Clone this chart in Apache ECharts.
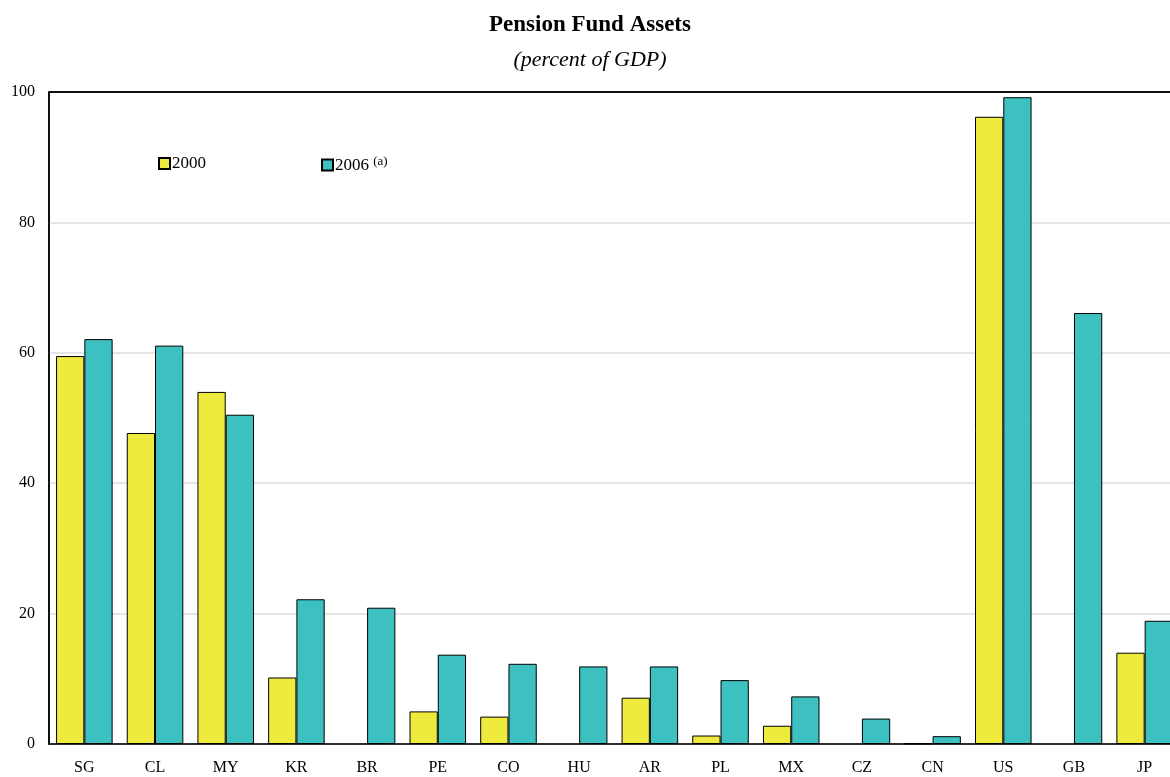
<!DOCTYPE html>
<html>
<head>
<meta charset="utf-8">
<script src="https://cdn.jsdelivr.net/npm/echarts@6/dist/echarts.min.js"></script>
<style>
  html, body { margin: 0; padding: 0; background: #fff; overflow: hidden; }
  /* The plot runs a little past the right edge of the window */
  #chart { width: 1181px; height: 777px; }
</style>
</head>
<body>
<div id="chart"></div>
<script>
// Pension fund assets by country, percent of GDP
const countries = ['SG', 'CL', 'MY', 'KR', 'BR', 'PE', 'CO', 'HU', 'AR', 'PL', 'MX', 'CZ', 'CN', 'US', 'GB', 'JP'];
const assets2000 = [59.5, 47.7, 54.0, 10.2, null, 5.0, 4.2, null, 7.1, 1.3, 2.8, null, 0.1, 96.2, null, 14.0];
const assets2006 = [62.1, 61.1, 50.5, 22.2, 20.9, 13.7, 12.3, 11.9, 11.9, 9.8, 7.3, 3.9, 1.2, 99.2, 66.1, 18.9];
const yTicks = [0, 20, 40, 60, 80, 100];

const serif = '"Liberation Serif", "Times New Roman", Times, serif';
const chart = echarts.init(document.getElementById('chart'), null, { renderer: 'canvas' });

// Light grid lines inside, solid frame line along the top
const gridColors = yTicks.map((v, i) => (i === yTicks.length - 1 ? '#000' : '#dcdcdc'));

chart.setOption({
  backgroundColor: '#fff',
  animation: false,
  title: [
    {
      text: 'Pension Fund Assets',
      left: 585, top: 9, textAlign: 'center',
      textStyle: { fontFamily: serif, fontWeight: 'bold', fontSize: 23, color: '#000' }
    },
    {
      text: '(percent of GDP)',
      left: 585, top: 44, textAlign: 'center',
      textStyle: { fontFamily: serif, fontStyle: 'italic', fontWeight: 'normal', fontSize: 22, color: '#000' }
    }
  ],
  legend: [
    {
      data: ['2000'], left: 153, top: 150,
      icon: 'rect', itemWidth: 11, itemHeight: 11, itemGap: 0,
      textStyle: { fontFamily: serif, fontSize: 17, color: '#000', padding: [2, 0, 0, -3] }
    },
    {
      data: ['2006'], left: 316, top: 150,
      icon: 'rect', itemWidth: 11, itemHeight: 11, itemGap: 0,
      formatter: name => name + ' {sup|(a)}',
      textStyle: {
        fontFamily: serif, fontSize: 17, color: '#000', padding: [2, 0, 0, -3],
        rich: { sup: { fontFamily: serif, fontSize: 13, color: '#000', padding: [0, 0, 9, 0] } }
      }
    }
  ],
  grid: {
    left: 49, right: 1, top: 92, bottom: 33,
    show: true, borderColor: '#000', borderWidth: 1.5, backgroundColor: 'transparent'
  },
  xAxis: {
    type: 'category',
    data: countries,
    axisLine: { show: true, lineStyle: { color: '#000', width: 1.5 } },
    axisTick: { show: false },
    axisLabel: { fontFamily: serif, fontSize: 16, color: '#000', margin: 16 }
  },
  yAxis: {
    type: 'value',
    min: yTicks[0], max: yTicks[yTicks.length - 1], interval: 20,
    axisLine: { show: true, lineStyle: { color: '#000', width: 1.5 } },
    axisTick: { show: false },
    axisLabel: { fontFamily: serif, fontSize: 16, color: '#000', margin: 14 },
    splitLine: { show: true, lineStyle: { color: gridColors, width: 1.5 } }
  },
  series: [
    {
      name: '2000', type: 'bar', data: assets2000,
      barGap: '0%', barCategoryGap: '20%',
      itemStyle: { color: '#EEEA3E', borderColor: '#000', borderWidth: 1 }
    },
    {
      name: '2006', type: 'bar', data: assets2006,
      barGap: '0%', barCategoryGap: '20%',
      itemStyle: { color: '#3CC0C0', borderColor: '#000', borderWidth: 1 }
    }
  ]
});
</script>
</body>
</html>
